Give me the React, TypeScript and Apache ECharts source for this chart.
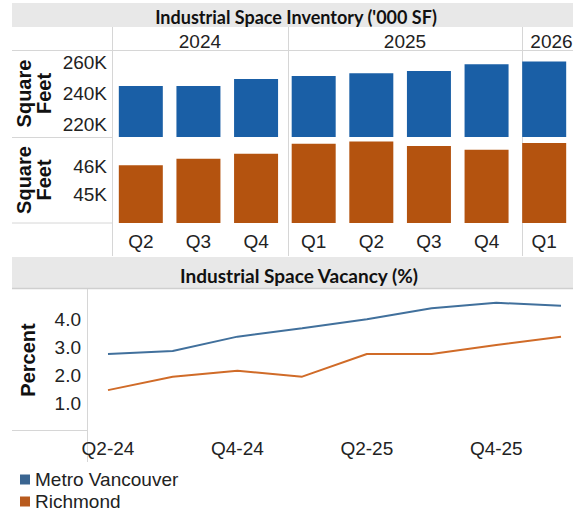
import React, { useEffect, useRef } from "react";
import * as echarts from "echarts";

// ---- data ----
const quarterLabels = ["Q2", "Q3", "Q4", "Q1", "Q2", "Q3", "Q4", "Q1"];
const years = ["2024", "2025", "2026"];
const yearSpans = [3, 4, 1];
const metroInventoryK = [244.9, 244.9, 249.5, 251.5, 253.2, 254.8, 259.1, 260.9];
const richmondInventoryK = [46.05, 46.28, 46.46, 46.81, 46.89, 46.73, 46.6, 46.84];
const metroTicks = [220, 240, 260];
const richmondTicks = [45, 46];

const vacancyQuarters = ["Q2-24", "Q3-24", "Q4-24", "Q1-25", "Q2-25", "Q3-25", "Q4-25", "Q1-26"];
const metroVacancy = [2.75, 2.86, 3.37, 3.67, 3.99, 4.38, 4.58, 4.47];
const richmondVacancy = [1.46, 1.94, 2.15, 1.94, 2.75, 2.75, 3.07, 3.37];
const vacancyTicks = [1, 2, 3, 4];

const seriesNames = ["Metro Vancouver", "Richmond"];

// ---- styles ----
const W = 573;
const H = 514;
const FONT = '"Liberation Sans", Arial, sans-serif';
const TITLE_FONT = 'Lato, "Open Sans", sans-serif';
const BAR_BLUE = "#1a5fa6";
const BAR_ORANGE = "#b4530f";
const LINE_BLUE = "#41709c";
const LINE_ORANGE = "#d06b28";
const LEGEND_COLORS = ["#3a6591", "#b85b1e"];
const SEP = "#d6d6d6";
const TEXT = "#222";
const FS = 19;

const BAR_LEFT = 112;
const BAND = 58.6;
const BAR_RIGHT = W - (BAR_LEFT + BAND * quarterLabels.length);

export default function App() {
  const ref = useRef<HTMLDivElement>(null);

  useEffect(() => {
    if (!ref.current) return;
    const chart = echarts.init(ref.current, undefined, { renderer: "svg" });

    const centered = { align: "center", verticalAlign: "middle", textAlign: "center", textVerticalAlign: "middle" };
    const graphics: any[] = [];
    // title bands
    graphics.push({ type: "rect", shape: { x: 12, y: 3, width: W - 12, height: 24 }, style: { fill: "#e8e8e8" }, silent: true });
    graphics.push({ type: "rect", shape: { x: 12, y: 257, width: W - 12, height: 31 }, style: { fill: "#e8e8e8" }, silent: true });
    graphics.push({ type: "line", shape: { x1: 12, y1: 288.5, x2: W, y2: 288.5 }, style: { stroke: "#cfcfcf", lineWidth: 1.5 }, silent: true });
    graphics.push({
      type: "text", x: 296, y: 16.5, silent: true,
      style: { text: "Industrial Space Inventory ('000 SF)", font: `bold 18px ${TITLE_FONT}`, fill: "#111", ...centered },
    });
    graphics.push({
      type: "text", x: 299, y: 275, silent: true,
      style: { text: "Industrial Space Vacancy (%)", font: `bold 19px ${TITLE_FONT}`, fill: "#111", ...centered },
    });

    // year headers & separators
    let start = 0;
    years.forEach((y, i) => {
      const cx = BAR_LEFT + (start + yearSpans[i] / 2) * BAND;
      graphics.push({
        type: "text", x: cx, y: 41, silent: true,
        style: { text: y, font: `${FS}px ${FONT}`, fill: TEXT, ...centered },
      });
      const sx = Math.round(BAR_LEFT + start * BAND) + 0.5;
      graphics.push({ type: "line", shape: { x1: sx, y1: 27, x2: sx, y2: 256 }, style: { stroke: SEP, lineWidth: 1 }, silent: true });
      start += yearSpans[i];
    });
    graphics.push({ type: "line", shape: { x1: 12, y1: 50.5, x2: W, y2: 50.5 }, style: { stroke: SEP, lineWidth: 1 }, silent: true });
    graphics.push({ type: "line", shape: { x1: 12, y1: 137.5, x2: BAR_LEFT, y2: 137.5 }, style: { stroke: SEP, lineWidth: 1 }, silent: true });
    graphics.push({ type: "line", shape: { x1: 12, y1: 223, x2: BAR_LEFT, y2: 223 }, style: { stroke: SEP, lineWidth: 1 }, silent: true });

    // line chart separators
    graphics.push({ type: "line", shape: { x1: 87.5, y1: 289, x2: 87.5, y2: 462 }, style: { stroke: SEP, lineWidth: 1 }, silent: true });
    graphics.push({ type: "line", shape: { x1: 12, y1: 430.5, x2: 87.5, y2: 430.5 }, style: { stroke: SEP, lineWidth: 1 }, silent: true });

    // axis titles
    const axisTitle = (text: string, x: number, y: number) => ({
      type: "text", x, y, rotation: Math.PI / 2, silent: true,
      style: { text, font: `bold 20px ${FONT}`, fill: "#111", lineHeight: 20, ...centered },
    });
    graphics.push(axisTitle("Square\nFeet", 34, 93.5));
    graphics.push(axisTitle("Square\nFeet", 34, 180));
    graphics.push(axisTitle("Percent", 28, 360));

    const labelStyle = { color: TEXT, fontSize: FS, fontFamily: FONT };
    const legendBase = {
      left: 15, itemWidth: 10, itemHeight: 10, icon: "rect", selectedMode: false, itemGap: 6,
      textStyle: { color: TEXT, fontSize: FS, fontFamily: FONT },
    };

    chart.setOption({
      animation: false,
      graphic: graphics,
      grid: [
        { left: BAR_LEFT, right: BAR_RIGHT, top: 50, height: 87 },
        { left: BAR_LEFT, right: BAR_RIGHT, top: 137, height: 86 },
        { left: 108, right: 12, top: 291, height: 140 },
      ],
      xAxis: [
        { type: "category", gridIndex: 0, data: quarterLabels, axisLine: { show: false }, axisTick: { show: false }, axisLabel: { show: false } },
        { type: "category", gridIndex: 1, data: quarterLabels, axisLine: { show: false }, axisTick: { show: false }, axisLabel: { ...labelStyle, margin: 9 } },
        { type: "category", gridIndex: 2, data: vacancyQuarters, boundaryGap: false, axisLine: { show: false }, axisTick: { show: false }, axisLabel: { ...labelStyle, interval: 1, margin: 8 } },
      ],
      yAxis: [
        {
          type: "value", gridIndex: 0, min: 211.5, max: 268.5,
          axisLine: { show: false }, axisTick: { show: false }, splitLine: { show: false },
          axisLabel: { ...labelStyle, margin: 5, customValues: metroTicks, formatter: (v: number) => `${v}K` },
        },
        {
          type: "value", gridIndex: 1, min: 44, max: 47.05,
          axisLine: { show: false }, axisTick: { show: false }, splitLine: { show: false },
          axisLabel: { ...labelStyle, margin: 5, customValues: richmondTicks, formatter: (v: number) => `${v}K` },
        },
        {
          type: "value", gridIndex: 2, min: 0, max: 5,
          axisLine: { show: false }, axisTick: { show: false }, splitLine: { show: false },
          axisLabel: { ...labelStyle, margin: 27, customValues: vacancyTicks, formatter: (v: number) => v.toFixed(1) },
        },
      ],
      legend: [
        { ...legendBase, top: 465, data: [{ name: seriesNames[0], itemStyle: { color: LEGEND_COLORS[0] } }] },
        { ...legendBase, top: 487, data: [{ name: seriesNames[1], itemStyle: { color: LEGEND_COLORS[1] } }] },
      ],
      series: [
        { type: "bar", name: seriesNames[0], xAxisIndex: 0, yAxisIndex: 0, data: metroInventoryK, barWidth: 44, itemStyle: { color: BAR_BLUE } },
        { type: "bar", name: seriesNames[1], xAxisIndex: 1, yAxisIndex: 1, data: richmondInventoryK, barWidth: 44, itemStyle: { color: BAR_ORANGE } },
        { type: "line", name: seriesNames[0], xAxisIndex: 2, yAxisIndex: 2, data: metroVacancy, showSymbol: false, lineStyle: { color: LINE_BLUE, width: 2 }, itemStyle: { color: LINE_BLUE } },
        { type: "line", name: seriesNames[1], xAxisIndex: 2, yAxisIndex: 2, data: richmondVacancy, showSymbol: false, lineStyle: { color: LINE_ORANGE, width: 2 }, itemStyle: { color: LINE_ORANGE } },
      ],
    });

    return () => chart.dispose();
  }, []);

  return (
    <div
      ref={ref}
      style={{ position: "absolute", left: 0, top: 0, width: W, height: H, overflow: "hidden", background: "#fff" }}
    />
  );
}
